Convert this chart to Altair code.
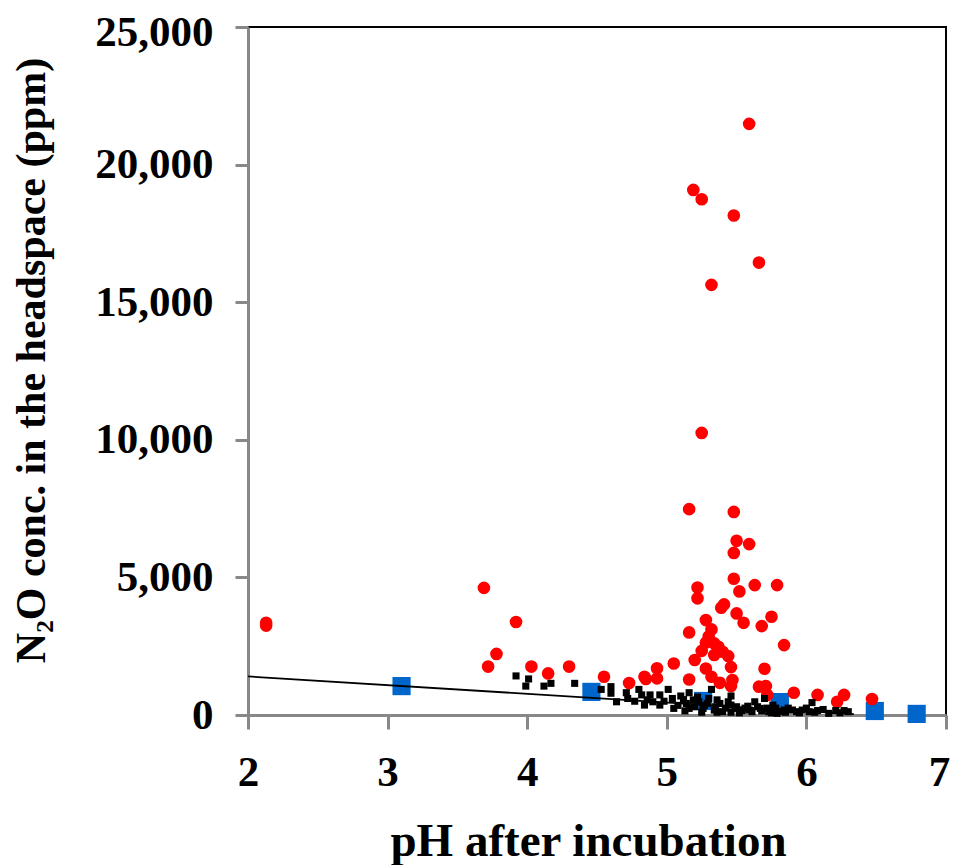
import altair as alt
import pandas as pd

# Red circles (pH, N2O ppm)
red_ph = [5.59, 5.19, 5.25, 5.48, 5.66, 5.32, 5.25, 5.16, 5.48, 5.50, 5.59, 5.48, 5.48,
          5.22, 5.22, 5.52, 5.63, 5.79, 5.39, 5.41, 5.50, 5.55, 5.75, 5.68, 5.28, 5.32,
          5.16, 5.84, 5.30, 5.28, 5.34, 5.37, 5.25, 5.40, 5.44, 5.34, 5.20, 5.05, 4.93,
          5.28, 5.46, 5.70, 5.32, 5.38, 5.47, 5.46, 5.16, 4.93, 4.84, 4.85, 4.73, 5.66,
          5.71, 5.72, 5.91, 6.08, 6.22, 6.27, 6.47, 4.55, 4.30, 4.15, 4.03, 3.78, 3.72,
          3.92, 3.69, 2.13, 2.13]
red_ppm = [21480, 19080, 18740, 18150, 16440, 15630, 10250, 7480, 7380, 6330, 6210, 5890, 4950,
           4630, 4240, 4490, 4720, 4720, 3900, 4020, 3690, 3350, 3570, 3230, 3450, 3110,
           3000, 2540, 2850, 2630, 2600, 2480, 2330, 2300, 2140, 2180, 2000, 1870, 1700,
           1690, 1740, 1680, 1390, 1170, 1270, 1050, 1290, 1330, 1390, 1310, 1160, 1030,
           1050, 730, 810, 730, 480, 730, 580, 1390, 1760, 1510, 1760, 2220, 1760,
           3380, 4620, 3350, 3250]

# Black small squares
black_ph = [3.92, 4.01, 3.99, 4.12, 4.17, 4.34, 4.53, 4.60, 4.60, 4.64, 4.71, 4.72, 4.80,
            4.82, 4.84, 4.88, 4.90, 4.95, 4.95, 5.01, 5.04, 5.05, 5.10, 5.14, 5.16, 5.16,
            5.19, 5.23, 5.26, 5.29, 5.32, 5.34, 5.38, 5.40, 5.46, 5.46, 5.49, 5.54, 5.59,
            5.63, 5.67, 5.70, 5.73, 5.76, 5.79, 5.84, 5.90, 5.97, 6.04, 6.08, 6.16, 6.21,
            6.27, 4.77, 4.86, 4.98, 5.08, 5.12, 5.20, 5.22, 5.27, 5.30, 5.35, 5.36, 5.42,
            5.44, 5.50, 5.52, 5.56, 5.58, 5.61, 5.65, 5.68, 5.72, 5.78, 5.81, 5.87, 5.93,
            6.00, 6.02, 6.12, 6.24, 6.30, 5.13, 5.25, 5.36, 5.46, 5.52, 5.75, 5.85, 5.95,
            6.06]
black_ppm = [1420, 1310, 1050, 1050, 1150, 1150, 930, 1030, 790, 480, 810, 600, 930,
             730, 360, 730, 480, 730, 360, 930, 600, 240, 690, 420, 810, 240,
             550, 480, 240, 420, 930, 180, 420, 120, 690, 360, 240, 160, 180,
             480, 240, 600, 120, 360, 60, 180, 180, 180, 450, 160, 60, 160,
             160, 500, 550, 500, 350, 560, 300, 650, 350, 600, 300, 550, 250,
             480, 300, 150, 250, 320, 120, 300, 150, 250, 250, 130, 250, 120,
             250, 120, 200, 80, 120, 150, 100, 100, 100, 80, 80, 100, 80,
             100]

# Blue large squares
blue_ph = [3.10, 4.46, 5.26, 5.81, 6.49, 6.79]
blue_ppm = [1050, 840, 510, 470, 145, 40]

# Trend line end points
line_ph = [2.0, 6.34]
line_ppm = [1400, 30]

red_df = pd.DataFrame({"ph": red_ph, "ppm": red_ppm})
black_df = pd.DataFrame({"ph": black_ph, "ppm": black_ppm})
blue_df = pd.DataFrame({"ph": blue_ph, "ppm": blue_ppm})
line_df = pd.DataFrame({"ph": line_ph, "ppm": line_ppm})

FONT = "Liberation Serif"

xscale = alt.Scale(domain=[2, 7], nice=False, zero=False)
yscale = alt.Scale(domain=[0, 25000], nice=False)

xaxis = alt.Axis(values=[2, 3, 4, 5, 6, 7], format="d", title="pH after incubation", grid=False,
                 domainColor="#888888", domainWidth=3, tickColor="#888888", tickWidth=3,
                 tickSize=14, labelFont=FONT, labelFontSize=43, labelFontWeight="bold",
                 labelColor="black", labelPadding=22, labelFlush=False,
                 labelOffset=alt.ExprRef("datum.value == 7 ? -7 : 0"),
                 titleFont=FONT, titleFontSize=47, titleFontWeight="bold", titleColor="black",
                 titleX=340, titleY=140, titleBaseline="alphabetic", titleAlign="center")
yaxis = alt.Axis(values=[0, 5000, 10000, 15000, 20000, 25000], format=",d",
                 title="N₂O conc. in the headspace (ppm)", grid=False,
                 domainColor="#888888", domainWidth=3, tickColor="#888888", tickWidth=3,
                 tickSize=13, labelFont=FONT, labelFontSize=43, labelFontWeight="bold",
                 labelColor="black", labelPadding=22, labelFlush=False,
                 labelOffset=alt.ExprRef("datum.value == 25000 ? 5 : 0"),
                 titleFont=FONT, titleFontSize=42, titleFontWeight="bold", titleColor="black",
                 titleAngle=270, titleX=-204, titleY=333, titleAlign="center",
                 titleBaseline="alphabetic")

base_x = alt.X("ph:Q", scale=xscale, axis=xaxis)
base_y = alt.Y("ppm:Q", scale=yscale, axis=yaxis)

blue = alt.Chart(blue_df).mark_square(size=330, color="#0066CC", opacity=1).encode(
    x=base_x, y=base_y)
red = alt.Chart(red_df).mark_circle(size=160, color="#FF0000", opacity=1).encode(
    x="ph:Q", y="ppm:Q")
black = alt.Chart(black_df).mark_square(size=50, color="black", opacity=1).encode(
    x="ph:Q", y="ppm:Q")
line = alt.Chart(line_df).mark_line(color="black", strokeWidth=1.8).encode(
    x="ph:Q", y="ppm:Q")

chart = alt.layer(blue, red, black, line).properties(
    width=698, height=688,
    autosize=alt.AutoSizeParams(type="none"),
    padding={"left": 240, "top": 19, "right": 5, "bottom": 150},
    background="white",
).configure_view(stroke="black", strokeWidth=2)

chart.save("out.html", embed_options={"renderer": "svg", "actions": False})
